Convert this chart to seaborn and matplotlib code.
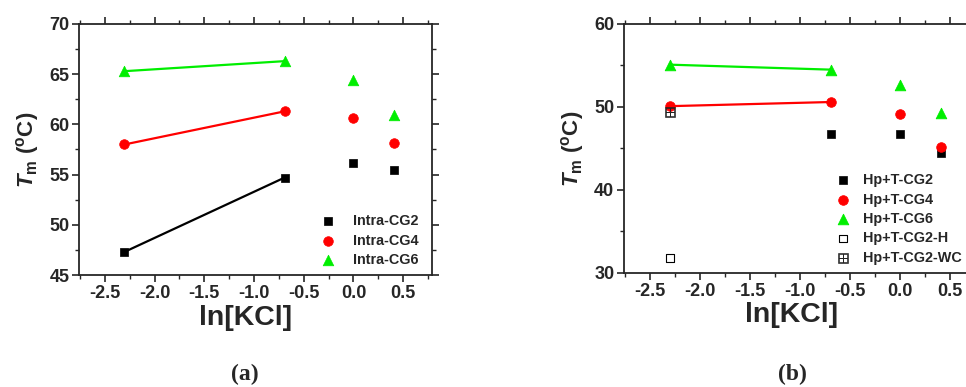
import numpy as np
import pandas as pd
import matplotlib
matplotlib.use("Agg")
import matplotlib.pyplot as plt
from matplotlib.ticker import MultipleLocator
import seaborn as sns

# ---- data ----
lnkcl = [-2.303, -0.693, 0.0, 0.405]

a_cg2 = [47.3, 54.7, 56.2, 55.5]
a_cg4 = [58.0, 61.3, 60.6, 58.1]
a_cg6 = [65.3, 66.3, 64.4, 60.9]
a_labels = ["Intra-CG2", "Intra-CG4", "Intra-CG6"]

b_cg2_x = [-0.693, 0.0, 0.405]
b_cg2 = [46.7, 46.7, 44.5]
b_cg4 = [50.1, 50.6, 49.1, 45.2]
b_cg6 = [55.1, 54.5, 52.7, 49.3]
b_h_x = [-2.303]
b_h = [31.8]
b_wc_x = [-2.303]
b_wc = [49.4]
b_labels = ["Hp+T-CG2", "Hp+T-CG4", "Hp+T-CG6", "Hp+T-CG2-H", "Hp+T-CG2-WC"]

sns.set_style("ticks")
plt.rcParams['font.family'] = ['Liberation Sans', 'DejaVu Sans']
plt.rcParams['font.weight'] = 'bold'
plt.rcParams['axes.unicode_minus'] = False
plt.rcParams['mathtext.fontset'] = 'custom'
plt.rcParams['mathtext.rm'] = 'Liberation Sans:bold'
plt.rcParams['mathtext.it'] = 'Liberation Sans:italic:bold'
plt.rcParams['mathtext.bf'] = 'Liberation Sans:bold'

fig = plt.figure(figsize=(9.66, 3.87), dpi=100)
axA = fig.add_axes([0.0818, 0.2894, 0.3654, 0.6486])
axB = fig.add_axes([0.646, 0.2946, 0.3675, 0.6434])

BLACK, RED, GREEN = "#000000", "#ff0000", "#00ee00"


def style_axes(ax, ylim, ymaj, ymin):
    ax.set_xlim(-2.76, 0.79)
    ax.set_ylim(*ylim)
    ax.xaxis.set_major_locator(MultipleLocator(0.5))
    ax.xaxis.set_minor_locator(MultipleLocator(0.25))
    ax.yaxis.set_major_locator(MultipleLocator(ymaj))
    ax.yaxis.set_minor_locator(MultipleLocator(ymin))
    for s in ax.spines.values():
        s.set_visible(True)
        s.set_linewidth(1.3)
    ax.tick_params(which='major', direction='out', length=5, width=1.2,
                   labelsize=13, pad=2)
    ax.tick_params(which='minor', direction='out', length=3, width=1.0)
    ax.tick_params(which='both', top=True, right=True)
    for lab in ax.get_xticklabels() + ax.get_yticklabels():
        lab.set_fontweight('bold')
    ax.set_xlabel("ln[KCl]", fontsize=20.5, fontweight='bold', labelpad=2,
                  x=0.472)
    ax.set_ylabel(r"$\mathit{T}_{\mathrm{m}}$ ($^{\mathrm{o}}$C)", fontsize=16,
                  fontweight='bold', labelpad=6)


# ---- panel (a) ----
for ys, col, mk, ms, lab in [(a_cg2, BLACK, 's', 36, a_labels[0]),
                             (a_cg4, RED, 'o', 48, a_labels[1]),
                             (a_cg6, GREEN, '^', 58, a_labels[2])]:
    sns.lineplot(x=lnkcl[:2], y=ys[:2], color=col, lw=1.6, ax=axA,
                 legend=False)
    sns.scatterplot(x=lnkcl, y=ys, color=col, marker=mk, s=ms,
                    edgecolor=col, linewidth=0.5, ax=axA, label=lab, zorder=3)
style_axes(axA, (45, 70), 5, 2.5)
axA.legend(loc='lower right', bbox_to_anchor=(1.0, -0.02), frameon=False,
           handletextpad=0.75, labelspacing=0.38,
           prop={'weight': 'bold', 'size': 10.4})

# ---- panel (b) ----
sns.lineplot(x=lnkcl[:2], y=b_cg4[:2], color=RED, lw=1.6, ax=axB, legend=False)
sns.lineplot(x=lnkcl[:2], y=b_cg6[:2], color=GREEN, lw=1.6, ax=axB, legend=False)
sns.scatterplot(x=b_cg2_x, y=b_cg2, color=BLACK, marker='s', s=36,
                edgecolor=BLACK, ax=axB, label=b_labels[0], zorder=3)
sns.scatterplot(x=lnkcl, y=b_cg4, color=RED, marker='o', s=48,
                edgecolor=RED, ax=axB, label=b_labels[1], zorder=3)
sns.scatterplot(x=lnkcl, y=b_cg6, color=GREEN, marker='^', s=58,
                edgecolor=GREEN, ax=axB, label=b_labels[2], zorder=3)
sns.scatterplot(x=b_h_x, y=b_h, marker='s', s=30, facecolors='none',
                edgecolor=BLACK, linewidth=0.8, ax=axB, label=b_labels[3],
                zorder=3)
sns.scatterplot(x=b_wc_x, y=b_wc, marker=r'$\boxplus$', s=50, color='#222222',
                edgecolor='#222222', linewidth=0.4, ax=axB, label=b_labels[4],
                zorder=3)
style_axes(axB, (30, 60), 10, 5)
axB.legend(loc='lower left', bbox_to_anchor=(0.54, -0.02), frameon=False,
           handletextpad=0.4, labelspacing=0.38,
           prop={'weight': 'bold', 'size': 10.4})

fig.text(0.253, 0.005, "(a)", family='Liberation Serif', fontsize=17,
         ha='center', va='bottom')
fig.text(0.82, 0.005, "(b)", family='Liberation Serif', fontsize=17,
         ha='center', va='bottom')

fig.savefig("out.png", dpi=100)
